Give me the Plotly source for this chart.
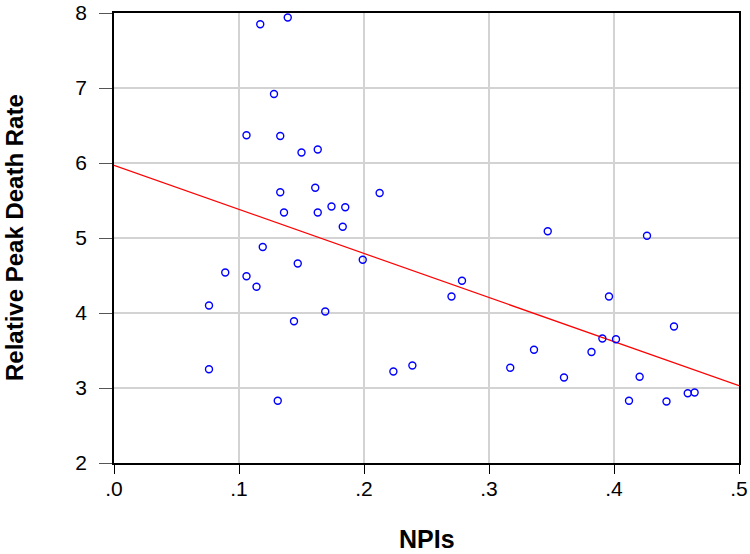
import plotly.graph_objects as go

# Scatter data: NPIs vs Relative Peak Death Rate
npis = [0.117, 0.139, 0.128, 0.106, 0.133, 0.150, 0.163, 0.133, 0.161, 0.2125,
        0.136, 0.163, 0.174, 0.185, 0.183, 0.347, 0.4264,
        0.119, 0.147, 0.199, 0.089, 0.106, 0.114, 0.076, 0.169, 0.144,
        0.076, 0.2235, 0.2387, 0.131,
        0.2784, 0.270, 0.396, 0.448, 0.3907, 0.4016, 0.336, 0.382, 0.317,
        0.360, 0.4205, 0.412, 0.442, 0.459, 0.4645]
death_rate = [7.85, 7.94, 6.92, 6.37, 6.36, 6.14, 6.18, 5.61, 5.67, 5.60,
              5.34, 5.34, 5.42, 5.41, 5.15, 5.09, 5.03,
              4.88, 4.66, 4.71, 4.54, 4.49, 4.35, 4.10, 4.02, 3.89,
              3.25, 3.22, 3.30, 2.83,
              4.43, 4.22, 4.22, 3.82, 3.66, 3.65, 3.51, 3.48, 3.27,
              3.14, 3.15, 2.83, 2.82, 2.93, 2.94]

# Fitted line endpoints
fit_x = [0.0, 0.5]
fit_y = [5.97, 3.03]

x_tickvals = [0.0, 0.1, 0.2, 0.3, 0.4, 0.5]
x_ticktext = [".0", ".1", ".2", ".3", ".4", ".5"]
y_tickvals = [2, 3, 4, 5, 6, 7, 8]
y_ticktext = ["2", "3", "4", "5", "6", "7", "8"]

x_title = "NPIs"
y_title = "Relative Peak Death Rate"

fig = go.Figure()
fig.add_trace(go.Scatter(
    x=fit_x, y=fit_y, mode="lines",
    line=dict(color="#ff0000", width=1.2),
    showlegend=False, hoverinfo="skip", cliponaxis=False))
fig.add_trace(go.Scatter(
    x=npis, y=death_rate, mode="markers",
    marker=dict(symbol="circle-open", size=7, color="#0000ff",
                line=dict(width=1.4, color="#0000ff")),
    showlegend=False))

font_family = "Liberation Sans, Arial, sans-serif"

fig.update_layout(
    width=750, height=554,
    margin=dict(l=114, r=11, t=13, b=91),
    paper_bgcolor="white", plot_bgcolor="white",
    font=dict(family=font_family, color="black"),
    xaxis=dict(
        range=[0, 0.5], tickvals=x_tickvals, ticktext=x_ticktext,
        showgrid=True, gridcolor="#d3d3d3", gridwidth=1.5,
        showline=True, linecolor="black", linewidth=1.5, mirror=True,
        ticks="outside", ticklen=9, tickcolor="black", tickwidth=1,
        ticklabelstandoff=-3, automargin=False,
        tickfont=dict(size=21, family=font_family),
        zeroline=False,
    ),
    yaxis=dict(
        range=[2, 8], tickvals=y_tickvals, ticktext=y_ticktext,
        showgrid=True, gridcolor="#d3d3d3", gridwidth=1.5,
        showline=True, linecolor="black", linewidth=1.5, mirror=True,
        ticks="outside", ticklen=13, tickcolor="#555555", tickwidth=1,
        ticklabelstandoff=8, automargin=False,
        tickfont=dict(size=21, family=font_family),
        zeroline=False,
    ),
    annotations=[
        dict(text="<b>" + x_title + "</b>", xref="paper", yref="paper",
             x=0.5, y=0, xanchor="center", yanchor="middle", yshift=-76,
             showarrow=False, font=dict(size=25, family=font_family)),
        dict(text="<b>" + y_title + "</b>", xref="paper", yref="paper",
             x=0, y=0.5, xanchor="center", yanchor="middle", xshift=-100,
             textangle=-90, showarrow=False,
             font=dict(size=24, family=font_family)),
    ],
)

fig.write_html("out.html",
               config={"displayModeBar": False},
               post_script="document.body.style.margin='0';document.body.style.overflow='hidden';")
